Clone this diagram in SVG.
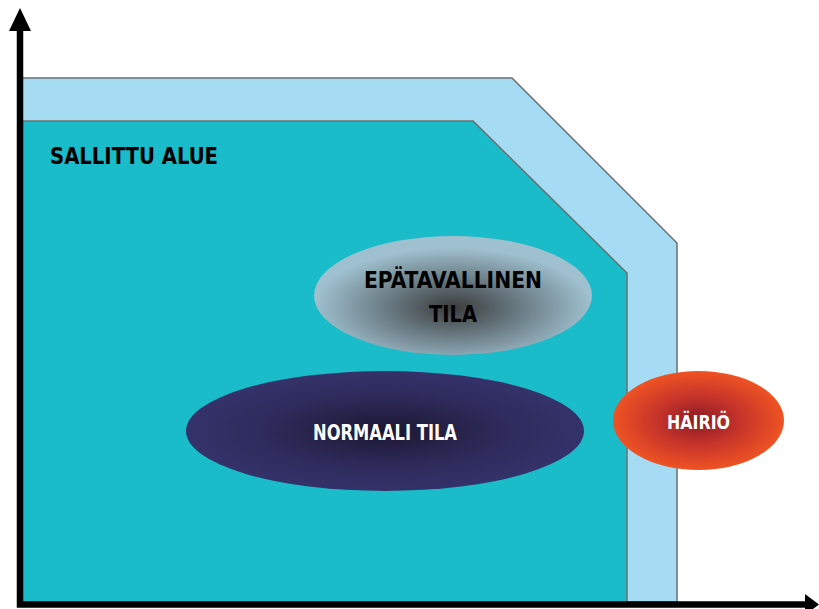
<svg xmlns="http://www.w3.org/2000/svg" width="819" height="609" viewBox="0 0 819 609">
<defs>
<style>
.zone{stroke:#6b6f70;stroke-width:1.5}
.lbl{font-family:"DejaVu Sans Condensed","DejaVu Sans",sans-serif;font-weight:bold;text-anchor:middle}
.axis{stroke:#000;stroke-width:6.5;fill:none}
</style>
<radialGradient id="gEp" cx="0.5" cy="0.6" r="0.5">
<stop offset="0" stop-color="#3c3c3c"/>
<stop offset="0.35" stop-color="#5d6a70"/>
<stop offset="1" stop-color="#9fc0cf"/>
</radialGradient>
<radialGradient id="gNo" cx="0.5" cy="0.5" r="0.5">
<stop offset="0" stop-color="#1c1730"/>
<stop offset="0.6" stop-color="#2e2b5c"/>
<stop offset="1" stop-color="#34326a"/>
</radialGradient>
<radialGradient id="gHa" cx="0.5" cy="0.5" r="0.5">
<stop offset="0" stop-color="#8a1a26"/>
<stop offset="0.5" stop-color="#c7342a"/>
<stop offset="1" stop-color="#ee5323"/>
</radialGradient>
</defs>
<rect width="819" height="609" fill="#fff"/>
<g id="outer-zone">
<polygon class="zone" fill="#a6dcf3" points="22,78 512,78 677,243 677,602 22,602"/>
</g>
<g id="allowed-zone">
<polygon class="zone" fill="#19bcc8" points="22,121 473,121 627,273 627,602 22,602"/>
<text class="lbl" x="134" y="164" font-size="23" text-anchor="middle" textLength="168" lengthAdjust="spacingAndGlyphs">SALLITTU ALUE</text>
</g>
<g id="abnormal">
<ellipse cx="453" cy="295.5" rx="139" ry="59.5" fill="url(#gEp)"/>
<text class="lbl" x="453" y="288" font-size="23" fill="#000" textLength="178" lengthAdjust="spacingAndGlyphs">EPÄTAVALLINEN</text>
<text class="lbl" x="453" y="322" font-size="23" fill="#000" textLength="48" lengthAdjust="spacingAndGlyphs">TILA</text>
</g>
<g id="normal">
<ellipse cx="385" cy="431" rx="199" ry="60" fill="url(#gNo)"/>
<text class="lbl" x="385" y="440" font-size="21" fill="#fff" textLength="144" lengthAdjust="spacingAndGlyphs">NORMAALI TILA</text>
</g>
<g id="disturbance">
<ellipse cx="698.5" cy="420.5" rx="85.5" ry="49.5" fill="url(#gHa)"/>
<text class="lbl" x="698.5" y="429" font-size="20" fill="#fff" textLength="63" lengthAdjust="spacingAndGlyphs">HÄIRIÖ</text>
</g>
<g id="axes">
<path class="axis" d="M20,28 V604.5 H806"/>
<polygon points="20,8 31,31 9,31" fill="#000"/>
<polygon points="805,594 819,604.5 805,615" fill="#000"/>
</g>
</svg>
